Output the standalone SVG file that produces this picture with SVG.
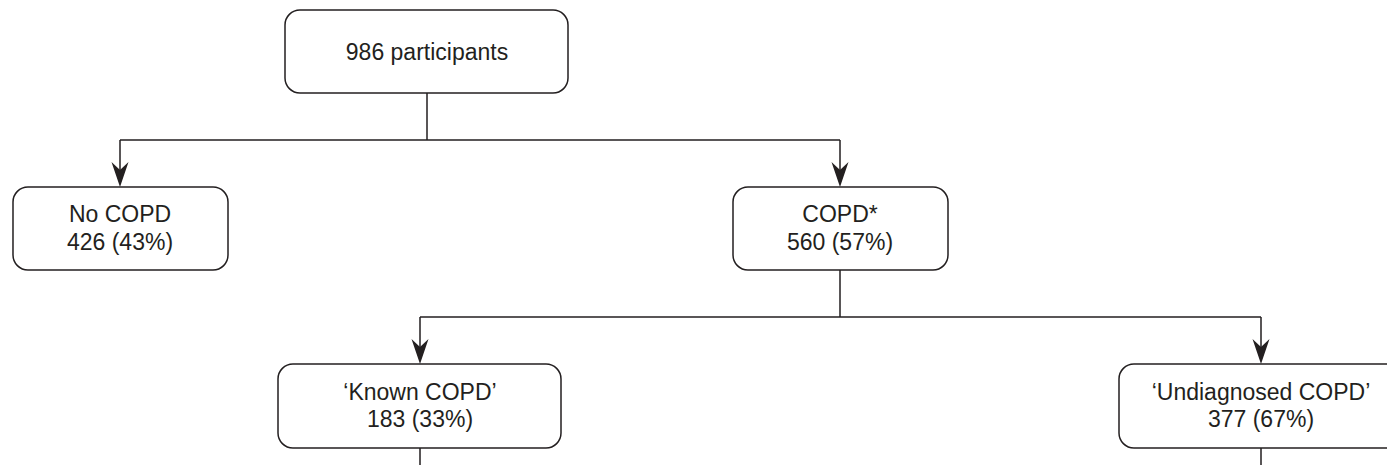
<svg xmlns="http://www.w3.org/2000/svg" width="1387" height="465" viewBox="0 0 1387 465">
  <defs>
    <style>
      .box { fill: #ffffff; stroke: #231f20; stroke-width: 1.5; }
      .wire { fill: none; stroke: #231f20; stroke-width: 1.5; }
      .head { fill: #231f20; stroke: none; }
      .label { font-family: "Liberation Sans", Arial, sans-serif; font-size: 23px; fill: #231f20; text-anchor: middle; }
    </style>
  </defs>
  <rect width="1387" height="465" fill="#ffffff"/>

  <!-- connectors -->
  <g id="connectors">
    <path class="wire" d="M427 93 V140 M120 140 H840 M120 140 V180 M840 140 V180"/>
    <path class="wire" d="M840 270 V317 M420 317 H1261 M420 317 V357 M1261 317 V357"/>
    <path class="wire" d="M420 448 V465 M1261 448 V465"/>
    <path class="head" d="M120 187 L111.5 162 L120 170 L128.5 162 Z"/>
    <path class="head" d="M840 187 L831.5 162 L840 170 L848.5 162 Z"/>
    <path class="head" d="M420 364 L411.5 339 L420 347 L428.5 339 Z"/>
    <path class="head" d="M1261 364 L1252.5 339 L1261 347 L1269.5 339 Z"/>
  </g>

  <g id="node-participants">
    <rect class="box" x="285" y="10" width="283" height="83" rx="15"/>
    <text class="label" x="427" y="60">986 participants</text>
  </g>

  <g id="node-no-copd">
    <rect class="box" x="13" y="187" width="215" height="83" rx="15"/>
    <text class="label" x="120" y="222">No COPD</text>
    <text class="label" x="120" y="250">426 (43%)</text>
  </g>

  <g id="node-copd">
    <rect class="box" x="733" y="187" width="215" height="83" rx="15"/>
    <text class="label" x="840" y="222">COPD*</text>
    <text class="label" x="840" y="250">560 (57%)</text>
  </g>

  <g id="node-known">
    <rect class="box" x="278" y="364" width="283" height="84" rx="15"/>
    <text class="label" x="420" y="400">‘Known COPD’</text>
    <text class="label" x="420" y="427">183 (33%)</text>
  </g>

  <g id="node-undiagnosed">
    <rect class="box" x="1119" y="364" width="283" height="84" rx="15"/>
    <text class="label" x="1261" y="400">‘Undiagnosed COPD’</text>
    <text class="label" x="1261" y="427">377 (67%)</text>
  </g>
</svg>
